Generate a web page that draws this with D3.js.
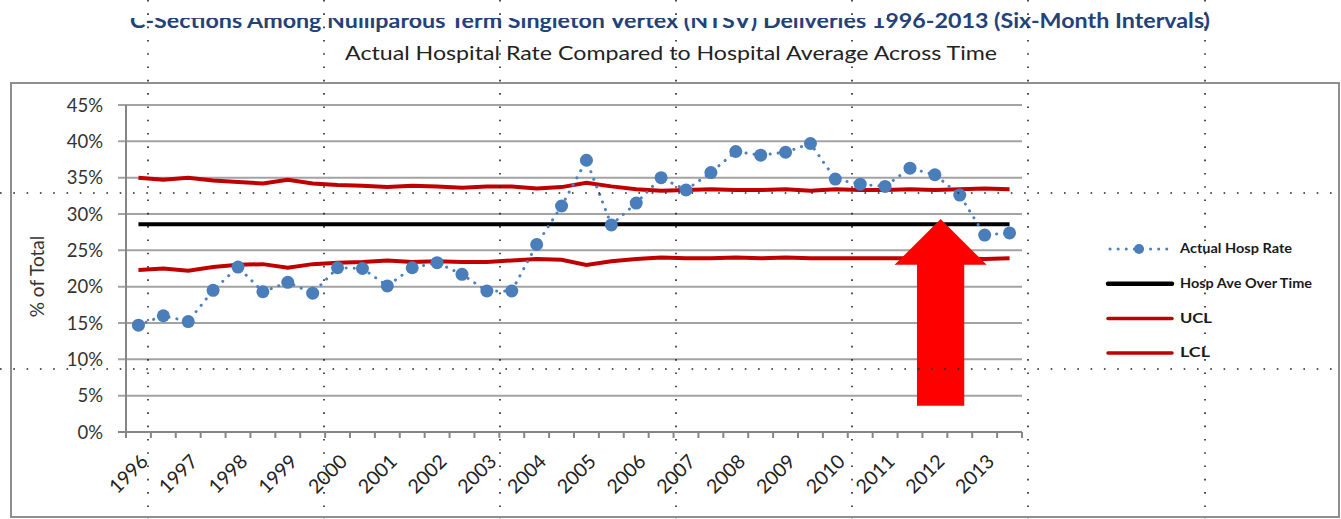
<!DOCTYPE html>
<html lang="en">
<head>
    <meta charset="UTF-8">
    <title>Actual Hospital Rate Compared to Hospital Average</title>
    <style>
        body { margin: 0; background: #fff; }
        svg { display: block; }
        text { font-family: Lato, "Open Sans", sans-serif; }
    </style>
</head>
<body>
<svg id="chart" width="1341" height="519"></svg>

<script src="https://cdn.jsdelivr.net/npm/d3@7"></script>
<script>
    // years shown on the x axis, two six-month periods per year
    const years = ["1996", "1997", "1998", "1999", "2000", "2001", "2002", "2003", "2004",
                   "2005", "2006", "2007", "2008", "2009", "2010", "2011", "2012", "2013"];
    const halves = ["H1", "H2"];
    const periods = years.flatMap(y => halves.map(h => y + " " + h));

    // % of total
    const actualRate = [14.7, 16.0, 15.2, 19.5, 22.7, 19.3, 20.6, 19.1, 22.6, 22.5, 20.1, 22.6,
                        23.3, 21.7, 19.4, 19.4, 25.8, 31.1, 37.4, 28.5, 31.5, 35.0, 33.3, 35.7,
                        38.6, 38.1, 38.5, 39.7, 34.8, 34.1, 33.8, 36.3, 35.4, 32.6, 27.1, 27.4];
    const hospAve = 28.6;
    const ucl = [35.0, 34.7, 35.0, 34.6, 34.4, 34.2, 34.7, 34.2, 34.0, 33.9, 33.7, 33.9,
                 33.8, 33.6, 33.8, 33.8, 33.5, 33.7, 34.3, 33.8, 33.4, 33.2, 33.3, 33.4,
                 33.3, 33.3, 33.4, 33.2, 33.4, 33.3, 33.3, 33.4, 33.3, 33.4, 33.5, 33.4];
    const lcl = [22.3, 22.5, 22.2, 22.7, 23.0, 23.1, 22.6, 23.1, 23.3, 23.4, 23.6, 23.4,
                 23.5, 23.4, 23.4, 23.6, 23.8, 23.7, 23.0, 23.5, 23.8, 24.0, 23.9, 23.9,
                 24.0, 23.9, 24.0, 23.9, 23.9, 23.9, 23.9, 23.9, 24.0, 23.9, 23.8, 23.9];
    const yTicks = [0, 5, 10, 15, 20, 25, 30, 35, 40, 45];

    // red annotation arrow, in chart units (period index, % value)
    const arrowAt = 32.23, arrowTip = 29.3, arrowHeadBase = 23.0, arrowBottom = 3.6;
    const arrowHeadHalf = 1.85, arrowShaftHalf = 0.95;

    const svg = d3.select("#chart");

    // chart frame
    svg.append("rect")
        .attr("x", 11).attr("y", 83)
        .attr("width", 1328).attr("height", 434)
        .attr("fill", "#fff")
        .attr("stroke", "#8f8f8f")
        .attr("stroke-width", 2);

    const x = d3.scaleBand().domain(periods).range([126, 1022]);
    const y = d3.scaleLinear().domain([0, 45]).range([432, 105]);
    const cx = i => x(periods[i]) + x.bandwidth() / 2;
    const xi = v => x(periods[0]) + x.bandwidth() / 2 + v * x.step();

    // gridlines + y ticks
    svg.append("g")
        .selectAll("line")
        .data(yTicks.filter(d => d > 0))
        .join("line")
        .attr("x1", 118).attr("x2", 1022)
        .attr("y1", d => y(d)).attr("y2", d => y(d))
        .attr("stroke", "#a3a3a3")
        .attr("stroke-width", 2);

    svg.append("g")
        .selectAll("text")
        .data(yTicks)
        .join("text")
        .attr("x", 103)
        .attr("y", d => y(d))
        .attr("dy", "0.36em")
        .attr("text-anchor", "end")
        .attr("font-size", 18.5)
        .attr("fill", "#333")
        .text(d => d + "%");

    // axes lines
    svg.append("line")
        .attr("x1", 126).attr("x2", 126)
        .attr("y1", y(45)).attr("y2", y(0))
        .attr("stroke", "#868686").attr("stroke-width", 2);
    svg.append("line")
        .attr("x1", 118).attr("x2", 1022)
        .attr("y1", y(0)).attr("y2", y(0))
        .attr("stroke", "#868686").attr("stroke-width", 2);

    // x ticks at period boundaries
    svg.append("g")
        .selectAll("line")
        .data(periods.concat(["end"]))
        .join("line")
        .attr("x1", (d, i) => 126 + i * x.step())
        .attr("x2", (d, i) => 126 + i * x.step())
        .attr("y1", y(0)).attr("y2", y(0) + 6)
        .attr("stroke", "#868686").attr("stroke-width", 2);

    // year labels under first half of each year
    svg.append("g")
        .selectAll("text")
        .data(years)
        .join("text")
        .attr("transform", (d, i) => `translate(${cx(i * 2) + 6},${y(0) + 26}) rotate(-45)`)
        .attr("text-anchor", "end")
        .attr("dy", "0.35em")
        .attr("font-size", 19.5)
        .attr("fill", "#222")
        .text(d => d);

    // y axis title
    svg.append("text")
        .attr("transform", `translate(44,${y(22.5) + 8}) rotate(-90)`)
        .attr("text-anchor", "middle")
        .attr("font-size", 19)
        .attr("fill", "#333")
        .text("% of Total");

    // lines
    const line = d3.line().x((d, i) => cx(i)).y(d => y(d)).curve(d3.curveLinear);

    svg.append("path")
        .attr("d", line(ucl))
        .attr("fill", "none").attr("stroke", "#c00000").attr("stroke-width", 4);
    svg.append("path")
        .attr("d", line(lcl))
        .attr("fill", "none").attr("stroke", "#c00000").attr("stroke-width", 4);
    svg.append("path")
        .attr("d", line(periods.map(() => hospAve)))
        .attr("fill", "none").attr("stroke", "#000").attr("stroke-width", 4);

    svg.append("path")
        .attr("d", line(actualRate))
        .attr("fill", "none")
        .attr("stroke", "#4f81bd")
        .attr("stroke-width", 3)
        .attr("stroke-linecap", "round")
        .attr("stroke-dasharray", "0.1,8");

    svg.append("g")
        .selectAll("circle")
        .data(actualRate)
        .join("circle")
        .attr("cx", (d, i) => cx(i))
        .attr("cy", d => y(d))
        .attr("r", 6.5)
        .attr("fill", "#4a7ebb");

    // red arrow
    const arrowPts = [
        [xi(arrowAt), y(arrowTip)],
        [xi(arrowAt + arrowHeadHalf), y(arrowHeadBase)],
        [xi(arrowAt + arrowShaftHalf), y(arrowHeadBase)],
        [xi(arrowAt + arrowShaftHalf), y(arrowBottom)],
        [xi(arrowAt - arrowShaftHalf), y(arrowBottom)],
        [xi(arrowAt - arrowShaftHalf), y(arrowHeadBase)],
        [xi(arrowAt - arrowHeadHalf), y(arrowHeadBase)]
    ];
    svg.append("polygon")
        .attr("points", arrowPts.map(p => p.join(",")).join(" "))
        .attr("fill", "#ff0000");

    // legend
    const legendItems = ["Actual Hosp Rate", "Hosp Ave Over Time", "UCL", "LCL"];
    const legendLen = [112, 132, 32, 30];
    const lg = svg.append("g");
    legendItems.forEach((name, k) => {
        const ly = 249 + k * 34.7;
        if (k === 0) {
            lg.append("line")
                .attr("x1", 1110).attr("x2", 1170).attr("y1", ly).attr("y2", ly)
                .attr("stroke", "#4f81bd").attr("stroke-width", 3)
                .attr("stroke-linecap", "round").attr("stroke-dasharray", "0.1,8");
            lg.append("circle").attr("cx", 1139).attr("cy", ly).attr("r", 5).attr("fill", "#4a7ebb");
        } else {
            lg.append("line")
                .attr("x1", 1108).attr("x2", 1172).attr("y1", ly).attr("y2", ly)
                .attr("stroke", k === 1 ? "#000" : "#c00000")
                .attr("stroke-width", k === 1 ? 4.5 : 3.5)
                .attr("stroke-linecap", "round");
        }
        lg.append("text")
            .attr("x", 1180).attr("y", ly).attr("dy", "0.35em")
            .attr("font-size", 12.5).attr("font-weight", "bold")
            .attr("fill", "#1a1a1a")
            .attr("textLength", legendLen[k]).attr("lengthAdjust", "spacingAndGlyphs")
            .text(name);
    });

    // titles (first line partly cut off at the top in the source)
    const defs = svg.append("defs");
    const clip = defs.append("clipPath").attr("id", "titleClip");
    clip.append("rect").attr("x", 0).attr("y", 18).attr("width", 887).attr("height", 30);
    clip.append("rect").attr("x", 887).attr("y", 0).attr("width", 454).attr("height", 40);

    svg.append("text")
        .attr("clip-path", "url(#titleClip)")
        .attr("x", 130).attr("y", 28)
        .attr("font-size", 20).attr("font-weight", "bold")
        .attr("fill", "#24427a")
        .attr("textLength", 1080).attr("lengthAdjust", "spacingAndGlyphs")
        .text("C-Sections Among Nulliparous Term Singleton Vertex (NTSV) Deliveries 1996-2013 (Six-Month Intervals)");

    svg.append("text")
        .attr("x", 345).attr("y", 60)
        .attr("font-size", 20)
        .attr("fill", "#222")
        .attr("textLength", 652).attr("lengthAdjust", "spacingAndGlyphs")
        .text("Actual Hospital Rate Compared to Hospital Average Across Time");

    // dotted sheet gridlines visible in the screenshot
    const dots = svg.append("g")
        .attr("stroke", "#222").attr("stroke-width", 1.6)
        .attr("stroke-dasharray", "1.6,11.7");
    [193, 369].forEach(v => dots.append("line")
        .attr("x1", 0).attr("x2", 1341).attr("y1", v).attr("y2", v));
    [148, 324, 500, 676, 852, 1028, 1205].forEach(v => dots.append("line")
        .attr("x1", v).attr("x2", v).attr("y1", 0).attr("y2", 519));
</script>
</body>
</html>
